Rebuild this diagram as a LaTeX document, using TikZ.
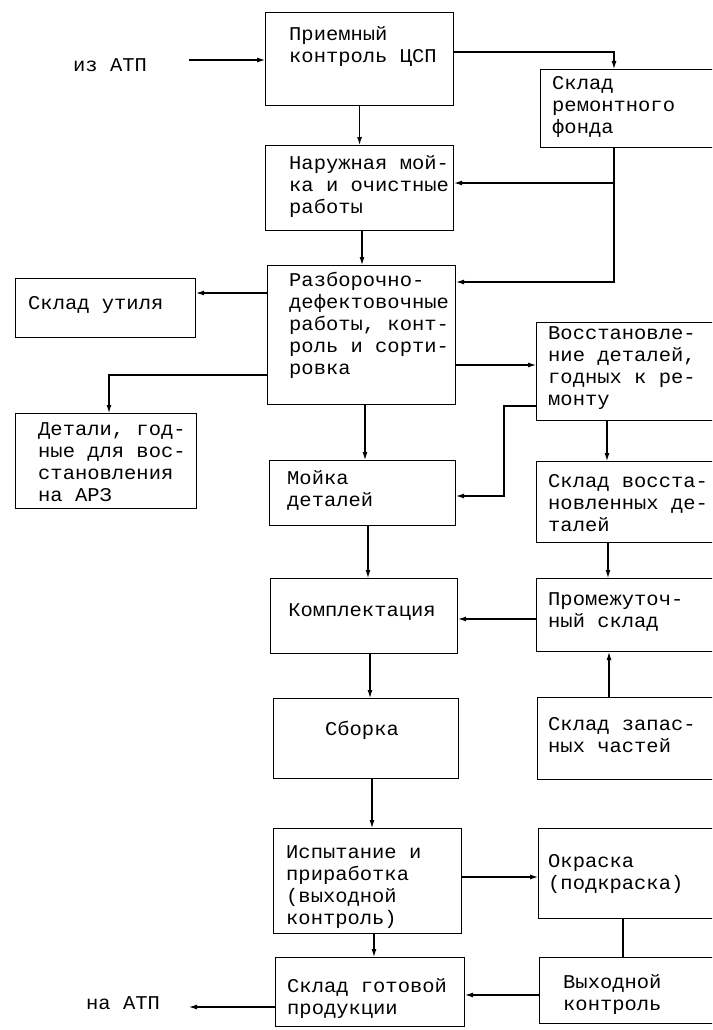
\documentclass[tikz,border=0pt]{standalone}
\usepackage{fontspec}
\newfontfamily\tw[FakeStretch=1.05]{Liberation Mono}
\usetikzlibrary{arrows.meta}
\tikzset{
  box/.style={draw, line width=1.1pt, inner sep=0pt, anchor=north west},
  txt/.style={font=\tw\fontsize{19.5}{22}\selectfont, align=left, inner sep=0pt, anchor=west},
  ctxt/.style={font=\tw\fontsize{19.5}{22}\selectfont, align=center, inner sep=0pt},
  flow/.style={draw, line width=1.1pt, -{Latex[length=8pt,width=5pt]}},
  plain/.style={draw, line width=1.1pt},
}
\begin{document}
\begin{tikzpicture}[x=1pt,y=-1pt]
\useasboundingbox (0,0) rectangle (712,1030);
\fill[white] (0,0) rectangle (712,1030);
\clip (0,0) rectangle (712,1030);
% boxes
\node[box, minimum width=188pt, minimum height=93pt] (pk) at (265,12) {};
\node[box, minimum width=190pt, minimum height=78pt] (srf) at (540,69) {};
\node[box, minimum width=188pt, minimum height=85pt] (nm) at (265,145) {};
\node[box, minimum width=188pt, minimum height=139pt] (rd) at (267,265) {};
\node[box, minimum width=180pt, minimum height=59pt] (su) at (15,278) {};
\node[box, minimum width=181pt, minimum height=95pt] (dv) at (15,413) {};
\node[box, minimum width=194pt, minimum height=98pt] (vd) at (536,322) {};
\node[box, minimum width=186pt, minimum height=65pt] (md) at (269,460) {};
\node[box, minimum width=194pt, minimum height=81pt] (svd) at (536,461) {};
\node[box, minimum width=187pt, minimum height=75pt] (km) at (270,578) {};
\node[box, minimum width=194pt, minimum height=73pt] (ps) at (536,578) {};
\node[box, minimum width=185pt, minimum height=80pt] (sb) at (273,698) {};
\node[box, minimum width=193pt, minimum height=82pt] (szc) at (537,697) {};
\node[box, minimum width=188pt, minimum height=105pt] (is) at (273,828) {};
\node[box, minimum width=192pt, minimum height=90pt] (ok) at (538,828) {};
\node[box, minimum width=191pt, minimum height=66pt] (vk) at (539,957) {};
\node[box, minimum width=189pt, minimum height=69pt] (sgp) at (275,957) {};
% texts
\node[txt] (t-iz) at (73,65) {из АТП};
\node[txt] (t-na) at (86,1003) {на АТП};
\node[txt] (t-pk) at (289,47) {Приемный\\контроль ЦСП};
\node[txt] (t-srf) at (552,107) {Склад\\ремонтного\\фонда};
\node[txt] (t-nm) at (289,187) {Наружная мой-\\ка и очистные\\работы};
\node[txt] (t-rd) at (289,325) {Разборочно-\\дефектовочные\\работы, конт-\\роль и сорти-\\ровка};
\node[txt] (t-su) at (28,305) {Склад утиля};
\node[txt] (t-dv) at (38,462) {Детали, год-\\ные для вос-\\становления\\на АРЗ};
\node[txt] (t-vd) at (548,368) {Восстановле-\\ние деталей,\\годных к ре-\\монту};
\node[txt] (t-md) at (287,490) {Мойка\\деталей};
\node[txt] (t-svd) at (548,503) {Склад восста-\\новленных де-\\талей};
\node[ctxt] (t-km) at (362,612) {Комплектация};
\node[txt] (t-ps) at (548,612) {Промежуточ-\\ный склад};
\node[ctxt] (t-sb) at (362,730) {Сборка};
\node[txt] (t-szc) at (548,735) {Склад запас-\\ных частей};
\node[txt] (t-is) at (286,887) {Испытание и\\приработка\\(выходной\\контроль)};
\node[txt] (t-ok) at (548,874) {Окраска\\(подкраска)};
\node[txt] (t-vk) at (563,995) {Выходной\\контроль};
\node[txt] (t-sgp) at (287,999) {Склад готовой\\продукции};
% connectors
\coordinate (iz-end) at (189,60);
\coordinate (na-end) at (189,1007);
\draw[flow] (iz-end) -- (pk.west |- iz-end);
\draw[flow] (pk.east |- 0,52) -| (srf.north -| 614,0);
\draw[flow] (pk.south) -- (pk.south |- nm.north);
\draw[flow] (srf.south -| 614,0) -- (614,282) -- (rd.east |- 0,282);
\draw[flow] (614,183) -- (nm.east |- 0,183);
\draw[flow] (nm.south -| 362,0) -- (rd.north -| 362,0);
\draw[flow] (rd.west |- 0,293) -- (su.east |- 0,293);
\draw[flow] (rd.west |- 0,375) -| (dv.north -| 109,0);
\draw[flow] (rd.east |- 0,365) -- (vd.west |- 0,365);
\draw[flow] (vd.west |- 0,406) -- (504,406) -- (504,496) -- (md.east |- 0,496);
\draw[flow] (rd.south -| 365,0) -- (md.north -| 365,0);
\draw[flow] (vd.south -| 607,0) -- (svd.north -| 607,0);
\draw[flow] (md.south -| 368,0) -- (km.north -| 368,0);
\draw[flow] (svd.south -| 608,0) -- (ps.north -| 608,0);
\draw[flow] (ps.west |- 0,619) -- (km.east |- 0,619);
\draw[flow] (szc.north -| 609,0) -- (ps.south -| 609,0);
\draw[flow] (km.south -| 370,0) -- (sb.north -| 370,0);
\draw[flow] (sb.south -| 372,0) -- (is.north -| 372,0);
\draw[flow] (is.east |- 0,877) -- (ok.west |- 0,877);
\draw[plain] (ok.south -| 623,0) -- (vk.north -| 623,0);
\draw[flow] (is.south -| 374,0) -- (sgp.north -| 374,0);
\draw[flow] (vk.west |- 0,995) -- (sgp.east |- 0,995);
\draw[flow] (sgp.west |- na-end) -- (na-end);
\end{tikzpicture}
\end{document}
